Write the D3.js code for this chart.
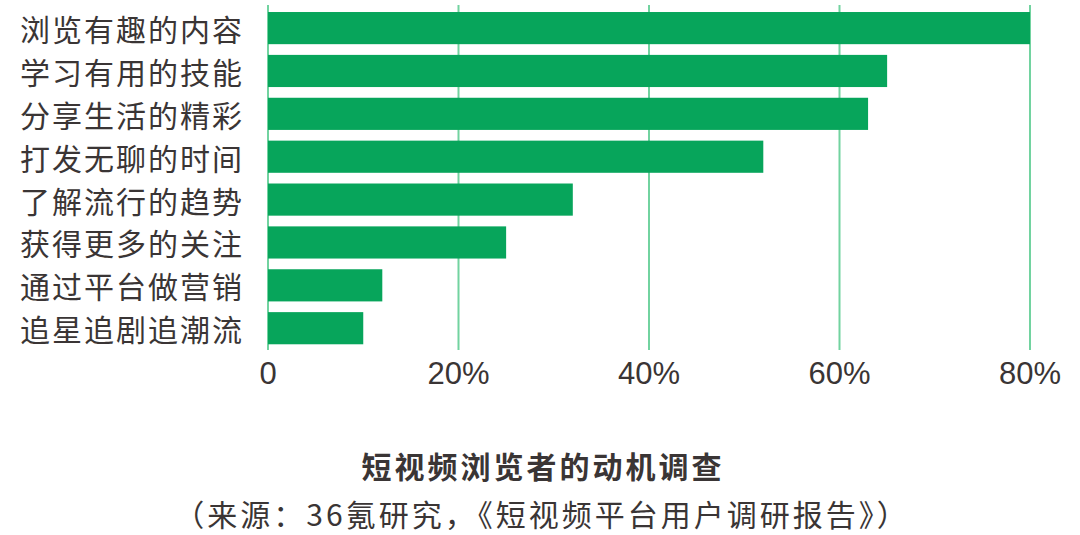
<!DOCTYPE html>
<html><head><meta charset="utf-8">
<script src="https://cdn.jsdelivr.net/npm/d3@7"></script>
<style>
html,body{margin:0;padding:0;background:#fff;}
svg{display:block;}
text{font-family:"Noto Sans CJK SC","Noto Sans",sans-serif;fill:#3a3535;}
</style></head>
<body>
<svg id="c" width="1080" height="535"></svg>
<script>
const categories = ["浏览有趣的内容","学习有用的技能","分享生活的精彩","打发无聊的时间","了解流行的趋势","获得更多的关注","通过平台做营销","追星追剧追潮流"];
const values = [80, 65, 63, 52, 32, 25, 12, 10];
const tickValues = [0, 20, 40, 60, 80];
const tickLabels = ["0", "20%", "40%", "60%", "80%"];
const title = "短视频浏览者的动机调查";
const subtitle = "（来源：36氪研究，《短视频平台用户调研报告》）";

const svg = d3.select("#c");
const x = d3.scaleLinear().domain([0, 80]).range([268, 1030]);
const y = d3.scaleBand().domain(categories).range([1.3, 355]).paddingInner(0.25).paddingOuter(0.25);

// gridlines
svg.append("g").selectAll("line").data(tickValues).join("line")
  .attr("x1", d => x(d)).attr("x2", d => x(d))
  .attr("y1", 5).attr("y2", 350)
  .attr("stroke", "#72d3a0").attr("stroke-width", 2);

// bars
svg.append("g").selectAll("rect").data(values).join("rect")
  .attr("x", x(0)).attr("y", (d, i) => y(categories[i]))
  .attr("width", d => x(d) - x(0)).attr("height", y.bandwidth())
  .attr("fill", "#07a55b");

// category labels
svg.append("g").selectAll("text").data(categories).join("text")
  .attr("x", 244).attr("y", d => y(d) + y.bandwidth() / 2)
  .attr("text-anchor", "end").attr("dominant-baseline", "central")
  .attr("font-size", 30).style("letter-spacing", "2px")
  .text(d => d);

// tick labels
svg.append("g").selectAll("text").data(tickValues).join("text")
  .attr("x", d => x(d)).attr("y", 384)
  .attr("text-anchor", "middle")
  .style("font-family", "'Liberation Sans', Arial, sans-serif")
  .attr("font-size", 31)
  .text((d, i) => tickLabels[i]);

// title
svg.append("text").attr("x", 543).attr("y", 478)
  .attr("text-anchor", "middle").attr("font-size", 30).attr("font-weight", "bold")
  .style("letter-spacing", "3px")
  .text(title);
svg.append("text").attr("x", 542).attr("y", 526)
  .attr("text-anchor", "middle").attr("font-size", 30)
  .style("letter-spacing", "3px")
  .text(subtitle);
</script>
</body></html>
